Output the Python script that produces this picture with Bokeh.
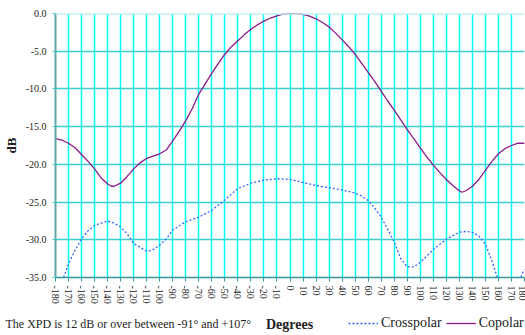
import math
from bokeh.plotting import figure
from bokeh.layouts import column
from bokeh.models import FixedTicker, Range1d, Label, Legend, LegendItem, Span
from bokeh.embed import file_html
from bokeh.resources import INLINE

# ---- data ----
cop_deg = [-180, -175, -170, -165, -160, -155, -150, -145, -140, -137, -135, -130, -125, -120,
           -115, -110, -105, -100, -95, -90, -85, -80, -75, -70, -65, -60, -55, -50, -45, -40,
           -35, -30, -25, -20, -15, -10, -5, 0, 5, 10, 15, 20, 25, 30, 35, 40, 45, 50, 55, 60,
           65, 70, 75, 80, 85, 90, 95, 100, 105, 110, 115, 120, 125, 130, 132, 135, 140, 145,
           150, 155, 160, 165, 170, 175, 180]
copolar = [-16.6, -16.8, -17.2, -17.8, -18.7, -19.6, -20.6, -21.8, -22.6, -22.9, -22.9, -22.5,
           -21.6, -20.6, -19.8, -19.2, -18.9, -18.6, -18.1, -16.9, -15.6, -14.2, -12.6, -10.7,
           -9.3, -7.9, -6.6, -5.4, -4.4, -3.6, -2.8, -2.1, -1.5, -1.0, -0.6, -0.3, -0.05, 0.0,
           0.0, -0.1, -0.35, -0.7, -1.2, -1.8, -2.6, -3.5, -4.4, -5.4, -6.6, -7.8, -9.0, -10.3,
           -11.6, -12.8, -14.1, -15.4, -16.6, -17.8, -19.0, -20.1, -21.1, -22.0, -22.8, -23.5,
           -23.7, -23.5, -22.9, -22.0, -20.8, -19.6, -18.6, -17.9, -17.5, -17.2, -17.2]

xp_deg = [-180, -175, -170, -165, -160, -155, -150, -145, -140, -135, -130, -125, -120, -115,
          -110, -106, -100, -95, -90, -80, -70, -60, -50, -40, -30, -20, -10, 0, 10, 20, 30, 40,
          50, 55, 60, 65, 70, 75, 80, 85, 90, 95, 100, 110, 120, 130, 135, 140, 145, 150, 155,
          160, 165, 170, 175, 178, 180]
crosspolar = [-38.0, -35.6, -33.2, -31.4, -29.9, -28.8, -28.1, -27.8, -27.5, -27.8, -28.3,
              -29.2, -30.5, -31.0, -31.5, -31.4, -30.7, -29.9, -28.7, -27.6, -27.0, -26.1,
              -24.7, -23.2, -22.5, -22.1, -21.9, -22.0, -22.4, -22.8, -23.1, -23.4, -23.8,
              -24.2, -24.8, -25.8, -27.0, -28.6, -30.3, -32.5, -33.6, -33.6, -33.0, -31.3,
              -29.9, -29.0, -28.9, -29.0, -29.5, -30.6, -32.8, -35.5, -38.0, -39.0, -36.2,
              -34.6, -33.9]

x_ticks = list(range(-180, 181, 10))
y_ticks = [-35, -30, -25, -20, -15, -10, -5, 0]
y_tick_labels = ["-35.0", "-30.0", "-25.0", "-20.0", "-15.0", "-10.0", "-5.0", "0.0"]

series_names = ["Crosspolar", "Copolar"]
footer_text = "The XPD is 12 dB or over between -91\u00b0 and +107\u00b0"
x_title = "Degrees"
y_title = "dB"

FONT = "Liberation Serif"
TEXT_COLOR = "#222222"
XP_COLOR = "#3366FF"
CO_COLOR = "#8B1A8B"

# ---- main chart ----
p = figure(width=525, height=312, x_range=Range1d(-180, 180), y_range=Range1d(-35, 0),
           output_backend="svg", toolbar_location=None,
           min_border_left=52, min_border_right=1, min_border_top=13, min_border_bottom=35)
p.background_fill_color = "white"
p.border_fill_color = "white"
p.outline_line_color = None

p.xgrid.ticker = FixedTicker(ticks=x_ticks)
p.xgrid.grid_line_color = "#00FFFF"
p.xgrid.grid_line_width = 1.5
p.ygrid.ticker = FixedTicker(ticks=y_ticks)
p.ygrid.grid_line_color = "#3CCFCF"
p.ygrid.grid_line_width = 1.6
p.add_layout(Span(location=0, dimension="width", line_color="#B4F0F0", line_width=2.5))

p.xaxis.ticker = FixedTicker(ticks=x_ticks)
p.xaxis.major_label_overrides = {t: str(t) for t in x_ticks}
p.xaxis.major_label_orientation = -math.pi / 2
p.xaxis.major_label_text_font = FONT
p.xaxis.major_label_text_font_size = "10px"
p.xaxis.major_label_text_color = TEXT_COLOR
p.xaxis.major_label_standoff = 4
p.xaxis.axis_line_color = "#339999"
p.xaxis.axis_line_width = 1.5
p.xaxis.major_tick_line_color = "#339999"
p.xaxis.major_tick_out = 4
p.xaxis.major_tick_in = 0
p.xaxis.minor_tick_line_color = None

p.yaxis.ticker = FixedTicker(ticks=y_ticks)
p.yaxis.major_label_overrides = dict(zip(y_ticks, y_tick_labels))
p.yaxis.major_label_text_font = FONT
p.yaxis.major_label_text_font_size = "10px"
p.yaxis.major_label_text_color = TEXT_COLOR
p.yaxis.major_label_standoff = 6
p.yaxis.axis_line_color = "#5FA8A8"
p.yaxis.axis_line_width = 2
p.yaxis.major_tick_line_color = "#3CCFCF"
p.yaxis.major_tick_out = 3
p.yaxis.major_tick_in = 0
p.yaxis.minor_tick_line_color = None
p.yaxis.axis_label = y_title
p.yaxis.axis_label_text_font = FONT
p.yaxis.axis_label_text_font_style = "bold"
p.yaxis.axis_label_text_font_size = "13px"
p.yaxis.axis_label_text_color = TEXT_COLOR
p.yaxis.axis_label_standoff = 4

p.line(xp_deg, crosspolar, line_color=XP_COLOR, line_width=1.3, line_dash="2 2")
p.line(cop_deg, copolar, line_color=CO_COLOR, line_width=1.3)

# ---- bottom strip: footer note, axis title, legend ----
b = figure(width=525, height=23, x_range=Range1d(0, 525), y_range=Range1d(0, 23),
           output_backend="svg", toolbar_location=None,
           x_axis_location=None, y_axis_location=None,
           min_border_left=0, min_border_right=0, min_border_top=0, min_border_bottom=0)
b.grid.visible = False
b.outline_line_color = None
b.background_fill_color = "white"
b.border_fill_color = "white"
for fig in (p, b):
    try:
        fig.frame_align = False
    except Exception:
        pass

b.add_layout(Label(x=5, y=11.5, text=footer_text, text_font=FONT, text_font_size="12px",
                   text_baseline="middle", text_color=TEXT_COLOR))
b.add_layout(Label(x=289, y=11.5, text=x_title, text_font=FONT, text_font_size="14px",
                   text_font_style="bold", text_align="center", text_baseline="middle",
                   text_color=TEXT_COLOR))

lx = b.line([0, 0], [-10, -10], line_color=XP_COLOR, line_width=1.3, line_dash="2 2")
lc = b.line([0, 0], [-10, -10], line_color=CO_COLOR, line_width=1.3)
legend = Legend(items=[LegendItem(label=series_names[0], renderers=[lx]),
                       LegendItem(label=series_names[1], renderers=[lc])],
                location=(348, 4), orientation="horizontal",
                padding=0, margin=0, spacing=4, label_standoff=3,
                glyph_width=30, glyph_height=14, label_height=14,
                label_text_font=FONT, label_text_font_size="14px",
                label_text_color=TEXT_COLOR,
                border_line_color=None, background_fill_alpha=0)
b.add_layout(legend)

layout = column(p, b, spacing=0)
open("out.html", "w").write(file_html(layout, INLINE))
